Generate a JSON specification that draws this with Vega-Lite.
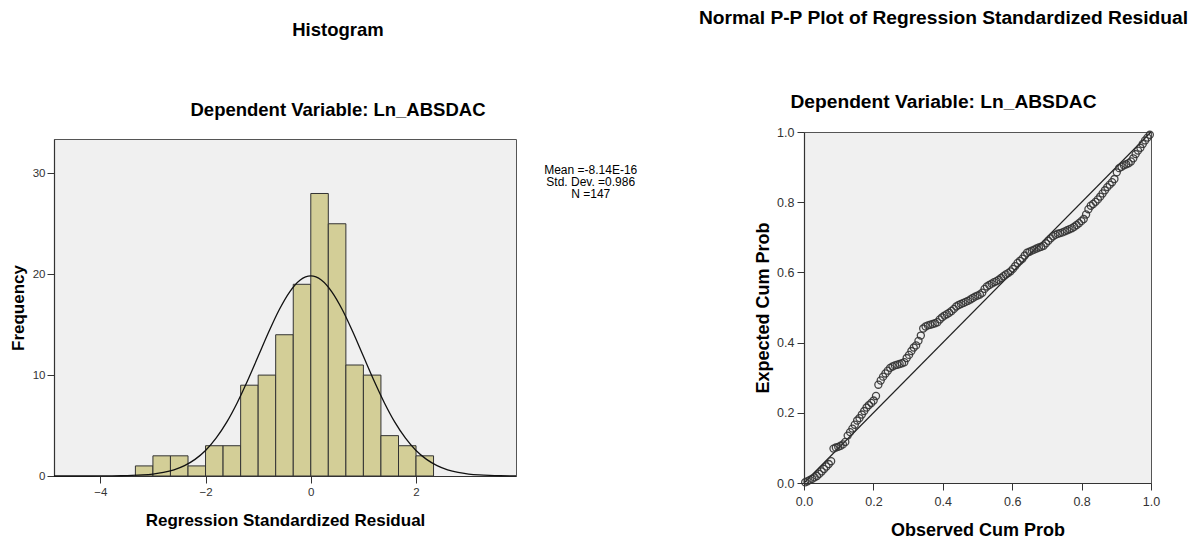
{
  "$schema": "https://vega.github.io/schema/vega-lite/v6.json",
  "background": "white",
  "padding": {"left": 8, "top": 8, "right": 0, "bottom": 0},
  "bounds": "flush",
  "center": true,
  "spacing": 288,
  "config": {
    "font": "Liberation Sans",
    "view": {"fill": "#f0f0f0", "stroke": "#555555", "strokeWidth": 1},
    "axis": {"labelFont": "Liberation Sans", "labelColor": "#333333", "titleFont": "Liberation Sans", "titleFontWeight": "bold", "titleColor": "#000000", "domainColor": "#333333", "tickColor": "#333333", "tickSize": 7, "grid": false, "domainWidth": 1.2, "tickWidth": 1, "labelFlush": false},
    "title": {"font": "Liberation Sans", "fontWeight": "bold", "color": "#000000", "subtitleFont": "Liberation Sans", "subtitleFontWeight": "bold", "subtitleColor": "#000000", "anchor": "middle"}
  },
  "hconcat": [
    {
      "width": 462,
      "height": 337,
      "title": {"text": "Histogram", "subtitle": "Dependent Variable: Ln_ABSDAC", "fontSize": 18.5, "subtitleFontSize": 18.5, "subtitlePadding": 61.5, "dx": 53, "offset": 20},
      "layer": [
        {
          "data": {"values": [
            {"bin_start": -3.333, "bin_end": -3.0, "count": 1},
            {"bin_start": -3.0, "bin_end": -2.667, "count": 2},
            {"bin_start": -2.667, "bin_end": -2.333, "count": 2},
            {"bin_start": -2.333, "bin_end": -2.0, "count": 1},
            {"bin_start": -2.0, "bin_end": -1.667, "count": 3},
            {"bin_start": -1.667, "bin_end": -1.333, "count": 3},
            {"bin_start": -1.333, "bin_end": -1.0, "count": 9},
            {"bin_start": -1.0, "bin_end": -0.667, "count": 10},
            {"bin_start": -0.667, "bin_end": -0.333, "count": 14},
            {"bin_start": -0.333, "bin_end": 0.0, "count": 19},
            {"bin_start": 0.0, "bin_end": 0.333, "count": 28},
            {"bin_start": 0.333, "bin_end": 0.667, "count": 25},
            {"bin_start": 0.667, "bin_end": 1.0, "count": 11},
            {"bin_start": 1.0, "bin_end": 1.333, "count": 10},
            {"bin_start": 1.333, "bin_end": 1.667, "count": 4},
            {"bin_start": 1.667, "bin_end": 2.0, "count": 3},
            {"bin_start": 2.0, "bin_end": 2.333, "count": 2}
          ]},
          "mark": {"type": "bar", "fill": "#d3ce97", "stroke": "#333333", "strokeWidth": 1},
          "encoding": {
            "x": {"field": "bin_start", "type": "quantitative", "scale": {"domain": [-4.88, 3.9], "nice": false, "zero": false}, "axis": {"values": [-4, -2, 0, 2], "title": "Regression Standardized Residual", "titleFontSize": 17, "labelFontSize": 11.5, "labelPadding": 3, "titlePadding": 15}},
            "x2": {"field": "bin_end"},
            "y": {"field": "count", "type": "quantitative", "scale": {"domain": [0, 33.4], "nice": false}, "axis": {"values": [0, 10, 20, 30], "title": "Frequency", "titleFontSize": 17, "labelFontSize": 11.5, "labelPadding": 2, "titlePadding": 5}},
            "y2": {"datum": 0}
          }
        },
        {
          "data": {"values": [
            {"x": -4.88, "density": 0.0}, {"x": -4.6, "density": 0.0004}, {"x": -4.4, "density": 0.001}, {"x": -4.2, "density": 0.002},
            {"x": -4.0, "density": 0.005}, {"x": -3.8, "density": 0.012}, {"x": -3.6, "density": 0.025}, {"x": -3.4, "density": 0.052},
            {"x": -3.2, "density": 0.102}, {"x": -3.0, "density": 0.194}, {"x": -2.8, "density": 0.352}, {"x": -2.6, "density": 0.613},
            {"x": -2.4, "density": 1.03}, {"x": -2.2, "density": 1.65}, {"x": -2.0, "density": 2.53}, {"x": -1.8, "density": 3.75},
            {"x": -1.6, "density": 5.31}, {"x": -1.4, "density": 7.24}, {"x": -1.2, "density": 9.46}, {"x": -1.0, "density": 11.86},
            {"x": -0.8, "density": 14.27}, {"x": -0.6, "density": 16.48}, {"x": -0.4, "density": 18.26}, {"x": -0.2, "density": 19.43},
            {"x": 0.0, "density": 19.83}, {"x": 0.2, "density": 19.43}, {"x": 0.4, "density": 18.26}, {"x": 0.6, "density": 16.48},
            {"x": 0.8, "density": 14.27}, {"x": 1.0, "density": 11.86}, {"x": 1.2, "density": 9.46}, {"x": 1.4, "density": 7.24},
            {"x": 1.6, "density": 5.31}, {"x": 1.8, "density": 3.75}, {"x": 2.0, "density": 2.53}, {"x": 2.2, "density": 1.65},
            {"x": 2.4, "density": 1.03}, {"x": 2.6, "density": 0.613}, {"x": 2.8, "density": 0.352}, {"x": 3.0, "density": 0.194},
            {"x": 3.2, "density": 0.102}, {"x": 3.4, "density": 0.052}, {"x": 3.6, "density": 0.025}, {"x": 3.8, "density": 0.012},
            {"x": 3.9, "density": 0.008}
          ]},
          "mark": {"type": "line", "color": "#111111", "strokeWidth": 1.3, "interpolate": "monotone"},
          "encoding": {
            "x": {"field": "x", "type": "quantitative", "axis": {"values": [-4, -2, 0, 2], "title": "Regression Standardized Residual", "titleFontSize": 17, "labelFontSize": 11.5, "labelPadding": 3, "titlePadding": 15}},
            "y": {"field": "density", "type": "quantitative", "axis": {"values": [0, 10, 20, 30], "title": "Frequency", "titleFontSize": 17, "labelFontSize": 11.5, "labelPadding": 2, "titlePadding": 5}}
          }
        },
        {
          "data": {"values": [{"x": 5.32, "y": 30.3, "label": "Mean =-8.14E-16\nStd. Dev. =0.986\nN =147"}]},
          "mark": {"type": "text", "fontSize": 12, "lineBreak": "\n", "align": "center", "baseline": "middle", "lineHeight": 12, "color": "#000000"},
          "encoding": {
            "x": {"field": "x", "type": "quantitative", "axis": {"values": [-4, -2, 0, 2], "title": "Regression Standardized Residual", "titleFontSize": 17, "labelFontSize": 11.5, "labelPadding": 3, "titlePadding": 15}},
            "y": {"field": "y", "type": "quantitative", "axis": {"values": [0, 10, 20, 30], "title": "Frequency", "titleFontSize": 17, "labelFontSize": 11.5, "labelPadding": 2, "titlePadding": 5}},
            "text": {"field": "label"}
          }
        }
      ]
    },
    {
      "width": 347,
      "height": 351,
      "title": {"text": "Normal P-P Plot of Regression Standardized Residual", "subtitle": "Dependent Variable: Ln_ABSDAC", "fontSize": 19.2, "subtitleFontSize": 19.2, "subtitlePadding": 64.8, "dx": -34, "offset": 13.5},
      "layer": [
        {
          "data": {"values": [{"observed": 0, "expected": 0}, {"observed": 1, "expected": 1}]},
          "mark": {"type": "line", "color": "#222222", "strokeWidth": 1.2},
          "encoding": {
            "x": {"field": "observed", "type": "quantitative", "scale": {"domain": [0, 1], "nice": false}, "axis": {"values": [0, 0.2, 0.4, 0.6, 0.8, 1.0], "format": ".1f", "title": "Observed Cum Prob", "titleFontSize": 18, "labelFontSize": 12.5, "labelPadding": 5, "titlePadding": 14}},
            "y": {"field": "expected", "type": "quantitative", "scale": {"domain": [0, 1], "nice": false}, "axis": {"values": [0, 0.2, 0.4, 0.6, 0.8, 1.0], "format": ".1f", "title": "Expected Cum Prob", "titleFontSize": 18, "labelFontSize": 12.5, "labelPadding": 3, "titlePadding": 4}}
          }
        },
        {
          "data": {"values": [
            {"observed": 0.0034, "expected": 0.002}, {"observed": 0.0102, "expected": 0.005}, {"observed": 0.0170, "expected": 0.009},
            {"observed": 0.0238, "expected": 0.012}, {"observed": 0.0306, "expected": 0.016}, {"observed": 0.0374, "expected": 0.020},
            {"observed": 0.0442, "expected": 0.026}, {"observed": 0.0510, "expected": 0.033}, {"observed": 0.0578, "expected": 0.040},
            {"observed": 0.0646, "expected": 0.047}, {"observed": 0.0714, "expected": 0.054}, {"observed": 0.0782, "expected": 0.062},
            {"observed": 0.0850, "expected": 0.098}, {"observed": 0.0918, "expected": 0.101}, {"observed": 0.0986, "expected": 0.103},
            {"observed": 0.1054, "expected": 0.106}, {"observed": 0.1122, "expected": 0.110}, {"observed": 0.1190, "expected": 0.117},
            {"observed": 0.1259, "expected": 0.135}, {"observed": 0.1327, "expected": 0.145}, {"observed": 0.1395, "expected": 0.155},
            {"observed": 0.1463, "expected": 0.166}, {"observed": 0.1531, "expected": 0.178}, {"observed": 0.1599, "expected": 0.185},
            {"observed": 0.1667, "expected": 0.195}, {"observed": 0.1735, "expected": 0.205}, {"observed": 0.1803, "expected": 0.215},
            {"observed": 0.1871, "expected": 0.222}, {"observed": 0.1939, "expected": 0.228}, {"observed": 0.2007, "expected": 0.235},
            {"observed": 0.2075, "expected": 0.248}, {"observed": 0.2143, "expected": 0.280}, {"observed": 0.2211, "expected": 0.292},
            {"observed": 0.2279, "expected": 0.303}, {"observed": 0.2347, "expected": 0.312}, {"observed": 0.2415, "expected": 0.320},
            {"observed": 0.2483, "expected": 0.328}, {"observed": 0.2551, "expected": 0.332}, {"observed": 0.2619, "expected": 0.335},
            {"observed": 0.2687, "expected": 0.337}, {"observed": 0.2755, "expected": 0.339}, {"observed": 0.2823, "expected": 0.341},
            {"observed": 0.2891, "expected": 0.344}, {"observed": 0.2959, "expected": 0.356}, {"observed": 0.3027, "expected": 0.365},
            {"observed": 0.3095, "expected": 0.376}, {"observed": 0.3163, "expected": 0.386}, {"observed": 0.3231, "expected": 0.392},
            {"observed": 0.3299, "expected": 0.405}, {"observed": 0.3367, "expected": 0.420}, {"observed": 0.3435, "expected": 0.440},
            {"observed": 0.3503, "expected": 0.446}, {"observed": 0.3571, "expected": 0.449}, {"observed": 0.3639, "expected": 0.451},
            {"observed": 0.3707, "expected": 0.453}, {"observed": 0.3776, "expected": 0.455}, {"observed": 0.3844, "expected": 0.458},
            {"observed": 0.3912, "expected": 0.466}, {"observed": 0.3980, "expected": 0.472}, {"observed": 0.4048, "expected": 0.477},
            {"observed": 0.4116, "expected": 0.481}, {"observed": 0.4184, "expected": 0.485}, {"observed": 0.4252, "expected": 0.490},
            {"observed": 0.4320, "expected": 0.496}, {"observed": 0.4388, "expected": 0.503}, {"observed": 0.4456, "expected": 0.507},
            {"observed": 0.4524, "expected": 0.510}, {"observed": 0.4592, "expected": 0.513}, {"observed": 0.4660, "expected": 0.516},
            {"observed": 0.4728, "expected": 0.519}, {"observed": 0.4796, "expected": 0.523}, {"observed": 0.4864, "expected": 0.527},
            {"observed": 0.4932, "expected": 0.531}, {"observed": 0.5000, "expected": 0.534}, {"observed": 0.5068, "expected": 0.537},
            {"observed": 0.5136, "expected": 0.542}, {"observed": 0.5204, "expected": 0.553}, {"observed": 0.5272, "expected": 0.560},
            {"observed": 0.5340, "expected": 0.564}, {"observed": 0.5408, "expected": 0.568}, {"observed": 0.5476, "expected": 0.572},
            {"observed": 0.5544, "expected": 0.575}, {"observed": 0.5612, "expected": 0.579}, {"observed": 0.5680, "expected": 0.584},
            {"observed": 0.5748, "expected": 0.589}, {"observed": 0.5816, "expected": 0.594}, {"observed": 0.5884, "expected": 0.598},
            {"observed": 0.5952, "expected": 0.603}, {"observed": 0.6020, "expected": 0.610}, {"observed": 0.6088, "expected": 0.618},
            {"observed": 0.6156, "expected": 0.627}, {"observed": 0.6224, "expected": 0.633}, {"observed": 0.6293, "expected": 0.639},
            {"observed": 0.6361, "expected": 0.648}, {"observed": 0.6429, "expected": 0.656}, {"observed": 0.6497, "expected": 0.659},
            {"observed": 0.6565, "expected": 0.662}, {"observed": 0.6633, "expected": 0.665}, {"observed": 0.6701, "expected": 0.668},
            {"observed": 0.6769, "expected": 0.671}, {"observed": 0.6837, "expected": 0.673}, {"observed": 0.6905, "expected": 0.676},
            {"observed": 0.6973, "expected": 0.683}, {"observed": 0.7041, "expected": 0.690}, {"observed": 0.7109, "expected": 0.697},
            {"observed": 0.7177, "expected": 0.703}, {"observed": 0.7245, "expected": 0.707}, {"observed": 0.7313, "expected": 0.710},
            {"observed": 0.7381, "expected": 0.712}, {"observed": 0.7449, "expected": 0.714}, {"observed": 0.7517, "expected": 0.717},
            {"observed": 0.7585, "expected": 0.720}, {"observed": 0.7653, "expected": 0.723}, {"observed": 0.7721, "expected": 0.726},
            {"observed": 0.7789, "expected": 0.730}, {"observed": 0.7857, "expected": 0.735}, {"observed": 0.7925, "expected": 0.740},
            {"observed": 0.7993, "expected": 0.746}, {"observed": 0.8061, "expected": 0.752}, {"observed": 0.8129, "expected": 0.765},
            {"observed": 0.8197, "expected": 0.780}, {"observed": 0.8265, "expected": 0.790}, {"observed": 0.8333, "expected": 0.795},
            {"observed": 0.8401, "expected": 0.801}, {"observed": 0.8469, "expected": 0.808}, {"observed": 0.8537, "expected": 0.816},
            {"observed": 0.8605, "expected": 0.825}, {"observed": 0.8673, "expected": 0.834}, {"observed": 0.8741, "expected": 0.843},
            {"observed": 0.8810, "expected": 0.850}, {"observed": 0.8878, "expected": 0.857}, {"observed": 0.8946, "expected": 0.866},
            {"observed": 0.9014, "expected": 0.885}, {"observed": 0.9082, "expected": 0.897}, {"observed": 0.9150, "expected": 0.901},
            {"observed": 0.9218, "expected": 0.905}, {"observed": 0.9286, "expected": 0.908}, {"observed": 0.9354, "expected": 0.911},
            {"observed": 0.9422, "expected": 0.916}, {"observed": 0.9490, "expected": 0.925}, {"observed": 0.9558, "expected": 0.937},
            {"observed": 0.9626, "expected": 0.947}, {"observed": 0.9694, "expected": 0.955}, {"observed": 0.9762, "expected": 0.966},
            {"observed": 0.9830, "expected": 0.976}, {"observed": 0.9898, "expected": 0.984}, {"observed": 0.9966, "expected": 0.992}
          ]},
          "mark": {"type": "point", "shape": "circle", "filled": false, "size": 50, "stroke": "#333333", "strokeWidth": 1.3, "opacity": 0.9},
          "encoding": {
            "x": {"field": "observed", "type": "quantitative", "axis": {"values": [0, 0.2, 0.4, 0.6, 0.8, 1.0], "format": ".1f", "title": "Observed Cum Prob", "titleFontSize": 18, "labelFontSize": 12.5, "labelPadding": 5, "titlePadding": 14}},
            "y": {"field": "expected", "type": "quantitative", "axis": {"values": [0, 0.2, 0.4, 0.6, 0.8, 1.0], "format": ".1f", "title": "Expected Cum Prob", "titleFontSize": 18, "labelFontSize": 12.5, "labelPadding": 3, "titlePadding": 4}}
          }
        }
      ]
    }
  ]
}
